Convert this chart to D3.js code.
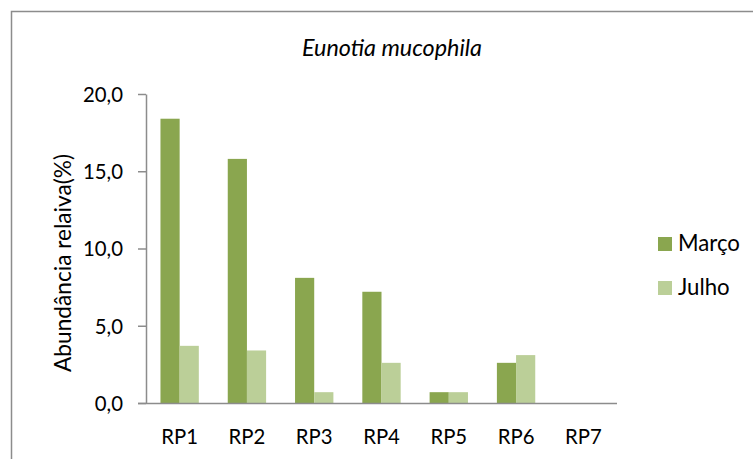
<!DOCTYPE html>
<html><head><meta charset="utf-8">
<script src="https://cdn.jsdelivr.net/npm/d3@7"></script>
<style>body{margin:0;background:#fff}svg{display:block}</style>
</head><body>
<script>
const categories = ["RP1","RP2","RP3","RP4","RP5","RP6","RP7"];
const seriesNames = ["Março","Julho"];
const marco = [18.4, 15.8, 8.1, 7.2, 0.7, 2.6, 0];
const julho = [3.7, 3.4, 0.7, 2.6, 0.7, 3.1, 0];
const yTicks = [0, 5, 10, 15, 20];
const colors = ["#8aa64f", "#bbcf98"];

const W = 753, H = 459;
const font = "Lato, 'Open Sans', sans-serif";
const svg = d3.select("body").append("svg").attr("width", W).attr("height", H);

// size a font so that a sample text has the given width
function fitSize(sample, target, italic) {
  const t = svg.append("text").attr("font-family", font).attr("font-size", 20)
    .attr("font-style", italic ? "italic" : "normal").text(sample);
  const w = t.node().getComputedTextLength();
  t.remove();
  return 20 * target / w;
}

// frame
svg.append("path").attr("d", `M11.5,${H}V11.5H${W}`).attr("fill","none").attr("stroke","#8c8c8c").attr("stroke-width",1.5);

const x0 = 146, x1 = 617, yTop = 94, yBot = 403;
const x = d3.scaleBand().domain(categories).range([x0, x1]).paddingInner(0.43).paddingOuter(0.215);
const xs = d3.scaleBand().domain(seriesNames).range([0, x.bandwidth()]);
const y = d3.scaleLinear().domain([0, 20]).range([yBot, yTop]);

const data = [marco, julho];
data.forEach((vals, si) => {
  svg.append("g").selectAll("rect").data(vals).join("rect")
    .attr("x", (d,i) => x(categories[i]) + xs(seriesNames[si]))
    .attr("width", xs.bandwidth())
    .attr("y", d => y(d))
    .attr("height", d => yBot - y(d))
    .attr("fill", colors[si]);
});

// y axis
const fmt = d => d.toFixed(1).replace(".", ",");
const ySize = fitSize("20,0", 40);
const gy = svg.append("g").attr("transform", `translate(${x0},0)`)
  .call(d3.axisLeft(y).tickValues(yTicks).tickFormat(fmt).tickSize(8).tickSizeOuter(0).tickPadding(15));
gy.select(".domain").attr("stroke","#8c8c8c").attr("stroke-width",1.5);
gy.selectAll(".tick line").attr("stroke","#8c8c8c").attr("stroke-width",1.5);
gy.selectAll(".tick text").attr("font-family", font).attr("font-size", ySize).attr("fill","#000").attr("dy", "0.36em");

// x axis
const gx = svg.append("g").attr("transform", `translate(0,${yBot})`)
  .call(d3.axisBottom(x).tickSize(0).tickPadding(0));
gx.select(".domain").attr("d", `M${x0-8},0.5H${x1}`).attr("stroke","#8c8c8c").attr("stroke-width",1.5);
gx.selectAll(".tick text").attr("font-family", font).attr("font-size", ySize).attr("fill","#000")
  .attr("y", 40.5).attr("dy", 0);

// axis title
const aSize = fitSize("Abundância relaiva(%)", 218);
svg.append("text").attr("transform", `translate(70.5,263) rotate(-90)`)
  .attr("text-anchor","middle").attr("font-family", font).attr("font-size", aSize).attr("fill","#000")
  .text("Abundância relaiva(%)");

// title
const tSize = fitSize("Eunotia mucophila", 180, true);
svg.append("text").attr("x", 392).attr("y", 56).attr("text-anchor","middle")
  .attr("font-family", font).attr("font-size", tSize).attr("font-style","italic").attr("fill","#000")
  .text("Eunotia mucophila");

// legend
const lSize = fitSize("Março", 62);
const lg = svg.append("g");
seriesNames.forEach((n, i) => {
  const yy = 237 + i*44;
  lg.append("rect").attr("x", 658).attr("y", yy).attr("width", 14).attr("height", 14).attr("fill", colors[i]);
  lg.append("text").attr("x", 678).attr("y", yy + 14).attr("font-family", font).attr("font-size", lSize).attr("fill","#000").text(n);
});
</script>
</body></html>
